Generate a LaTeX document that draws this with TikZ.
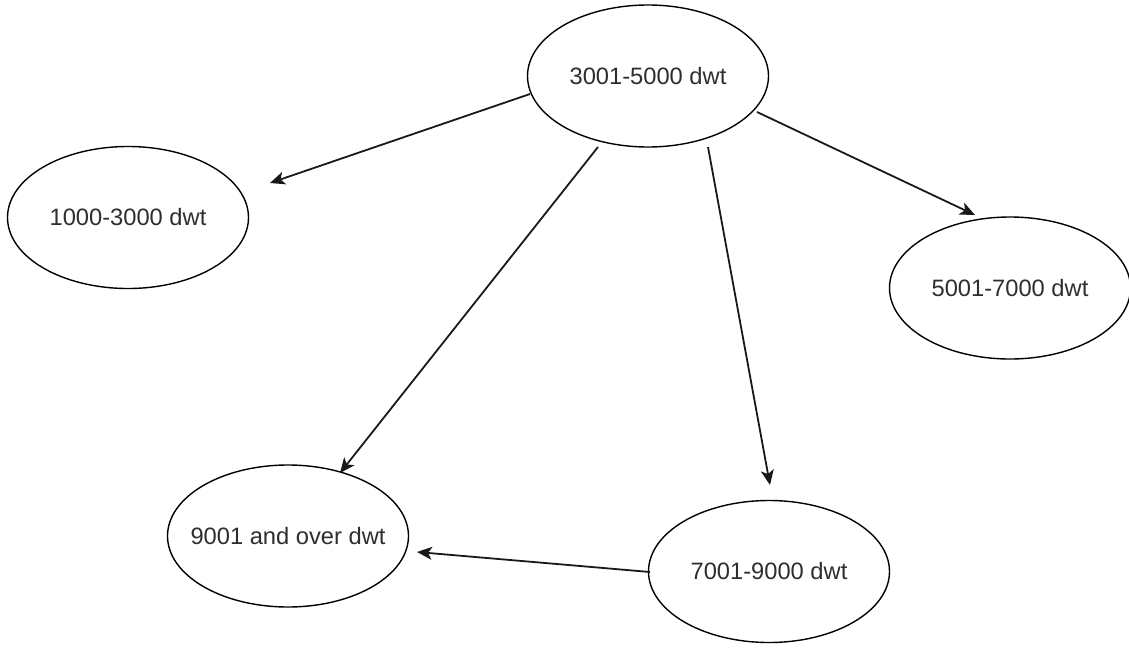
\documentclass[tikz,border=0pt]{standalone}
\usepackage{fontspec}
\setmainfont{Liberation Sans}
\usetikzlibrary{shapes.geometric,arrows.meta,calc}
\begin{document}
\begin{tikzpicture}[x=1pt,y=-1pt,
  blob/.style={ellipse,draw=black,line width=1.4pt,minimum width=241pt,minimum height=142pt,
    inner xsep=-40pt,inner ysep=0pt,
    font=\fontsize{23.7}{28}\selectfont,text=black!82},
  link/.style={draw=black!90,line width=1.8pt,-{Stealth[length=15pt,width=13pt,inset=4pt]}}]
\useasboundingbox[fill=white] (0,0) rectangle (1129,648);
\node[blob] (e1) at (648,76) {3001-5000 dwt};
\node[blob] (e2) at (128,217.5) {1000-3000 dwt};
\node[blob] (e3) at (1010,288) {5001-7000 dwt};
\node[blob] (e4) at (288,536) {9001 and over dwt};
\node[blob] (e5) at (769,571.5) {7001-9000 dwt};
\draw[link] ($(e1)+(-118,18)$) -- ($(e2)+(142,-34.5)$);
\draw[link] ($(e1)+(109,36)$) -- ($(e3)+(-35,-73)$);
\draw[link] ($(e1)+(-50,71)$) -- ($(e4)+(52,-63)$);
\draw[link] ($(e1)+(60,71)$) -- ($(e5)+(1,-86.5)$);
\draw[link] ($(e5)+(-119,0.5)$) -- ($(e4)+(129,16)$);
\end{tikzpicture}
\end{document}
